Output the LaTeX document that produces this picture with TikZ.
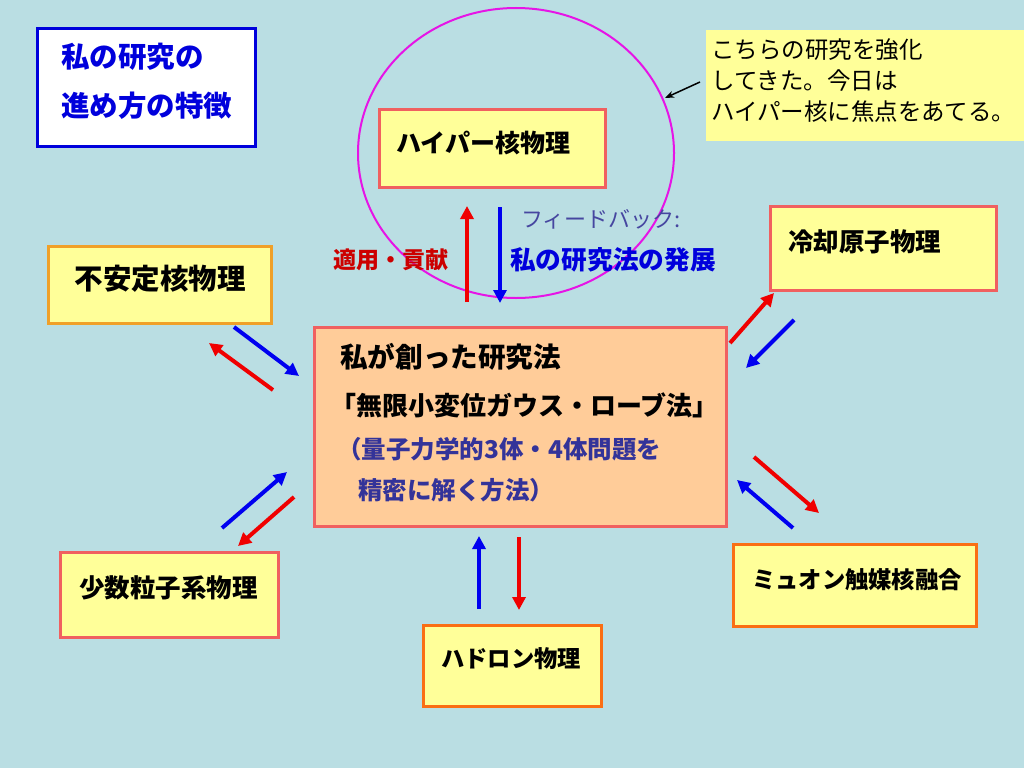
\documentclass[tikz,border=0pt]{standalone}
\usepackage{fontspec}
\setmainfont{Noto Sans CJK JP}
\newfontfamily\jp{Noto Sans CJK JP}
\usetikzlibrary{arrows.meta,shapes.geometric}
\definecolor{bg}{RGB}{186,222,227}
\definecolor{boxfill}{RGB}{255,255,153}
\definecolor{peach}{RGB}{255,204,153}
\definecolor{salmon}{RGB}{240,96,96}
\definecolor{amber}{RGB}{240,160,40}
\definecolor{orng}{RGB}{250,110,20}
\definecolor{titleblue}{RGB}{0,0,220}
\definecolor{darkblue}{RGB}{51,51,153}
\definecolor{slate}{RGB}{70,70,160}
\definecolor{redtxt}{RGB}{204,0,0}
\definecolor{arrred}{RGB}{240,0,0}
\definecolor{arrblue}{RGB}{0,0,240}
\definecolor{magenta2}{RGB}{230,20,230}
\tikzset{
  panel/.style={draw, line width=3pt, fill=boxfill, inner sep=0pt},
  lbl/.style={inner sep=0pt, font=\jp\bfseries\fontsize{24}{28}\selectfont},
  ltext/.style={inner sep=0pt, anchor=west},
  arr/.style={line width=4pt, -{Triangle[length=13pt,width=13pt]}},
}
\begin{document}
\begin{tikzpicture}[x=1pt,y=-1pt]
\fill[bg] (0,0) rectangle (1024,768);
\useasboundingbox (0,0) rectangle (1024,768);

% title box
\node[draw=titleblue, line width=3pt, fill=white, minimum width=218pt, minimum height=117pt] (title) at (146,87.5) {};
\node[ltext, font=\jp\bfseries\fontsize{28.5}{32}\selectfont, text=titleblue] (t1) at (61,57) {私の研究の};
\node[ltext, font=\jp\bfseries\fontsize{28.5}{32}\selectfont, text=titleblue] (t2) at (61,106) {進め方の特徴};

% magenta circle
\node[draw=magenta2, line width=2pt, ellipse, minimum width=316pt, minimum height=290pt, inner sep=0pt] (circ) at (516,153) {};

% callout
\node[fill=boxfill, minimum width=318pt, minimum height=111pt, inner sep=0pt] (callout) at (865,85.5) {};
\node[ltext, font=\jp\fontsize{23.5}{27}\selectfont] (c1) at (711,50) {こちらの研究を強化};
\node[ltext, font=\jp\fontsize{23.5}{27}\selectfont] (c2) at (711,81) {してきた。今日は};
\node[ltext, font=\jp\fontsize{23.5}{27}\selectfont] (c3) at (711,112) {ハイパー核に焦点をあてる。};
\coordinate (cs) at (700,82);
\coordinate (ce) at (665,98);
\draw[line width=1.5pt, -{Stealth[length=9pt,width=7pt]}] (cs) -- (ce);

% boxes
\node[panel, draw=salmon, minimum width=226pt, minimum height=78pt] (hyper) at (492,148) {};
\node[lbl, font=\jp\bfseries\fontsize{25}{28}\selectfont] (hyperT) at (483,143) {ハイパー核物理};

\node[panel, draw=amber, minimum width=223pt, minimum height=77pt] (unstable) at (159.5,284.5) {};
\node[lbl, font=\jp\bfseries\fontsize{28.5}{32}\selectfont] (unstableT) at (160,279) {不安定核物理};

\node[panel, draw=salmon, minimum width=226pt, minimum height=84pt] (cold) at (883,248) {};
\node[lbl, font=\jp\bfseries\fontsize{25.5}{29}\selectfont] (coldT) at (864.5,242) {冷却原子物理};

\node[panel, draw=salmon, minimum width=218pt, minimum height=85pt] (few) at (169,594.5) {};
\node[lbl, font=\jp\bfseries\fontsize{25.5}{29}\selectfont] (fewT) at (168.5,588) {少数粒子系物理};

\node[panel, draw=orng, minimum width=243pt, minimum height=82pt] (muon) at (854.5,585) {};
\node[lbl, font=\jp\bfseries\fontsize{23.3}{27}\selectfont] (muonT) at (857,580) {ミュオン触媒核融合};

\node[panel, draw=orng, minimum width=178pt, minimum height=81pt] (hadron) at (512,665.5) {};
\node[lbl, font=\jp\bfseries\fontsize{23.3}{27}\selectfont] (hadronT) at (511,659) {ハドロン物理};

% center box
\node[panel, draw=salmon, fill=peach, minimum width=412pt, minimum height=199pt] (method) at (520,426.5) {};
\node[ltext, font=\jp\bfseries\fontsize{27.6}{31}\selectfont] (m1) at (340,357) {私が創った研究法};
\node[ltext, font=\jp\bfseries\fontsize{26}{30}\selectfont] (m2) at (330,405) {「無限小変位ガウス・ローブ法」};
\node[ltext, font=\jp\bfseries\fontsize{24.5}{28}\selectfont, text=darkblue] (m3) at (337,449) {（量子力学的3体・4体問題を};
\node[ltext, font=\jp\bfseries\fontsize{24.5}{28}\selectfont, text=darkblue] (m4) at (358,490) {精密に解く方法）};

% labels by vertical arrows
\node[ltext, font=\jp\bfseries\fontsize{23}{27}\selectfont, text=redtxt] (apply) at (333,260) {適用・貢献};
\node[ltext, font=\jp\fontsize{22}{26}\selectfont, text=slate] (fb) at (521,219) {フィードバック:};
\node[ltext, font=\jp\bfseries\fontsize{25.7}{29}\selectfont, text=titleblue] (dev) at (510,260) {私の研究法の発展};

% arrow end points
\coordinate (a1s) at (467,302); \coordinate (a1e) at (467,206);
\coordinate (a2s) at (500,207); \coordinate (a2e) at (500,303);
\coordinate (b1s) at (234,327); \coordinate (b1e) at (299,376);
\coordinate (b2s) at (273,390); \coordinate (b2e) at (209,343);
\coordinate (c1s) at (222,528); \coordinate (c1e) at (287,472);
\coordinate (c2s) at (294,497); \coordinate (c2e) at (238,546);
\coordinate (d1s) at (730,343); \coordinate (d1e) at (774,293);
\coordinate (d2s) at (794,320); \coordinate (d2e) at (746,368);
\coordinate (e1s) at (754,457); \coordinate (e1e) at (819,513);
\coordinate (e2s) at (793,528); \coordinate (e2e) at (737,480);
\coordinate (f1s) at (479,609); \coordinate (f1e) at (479,536);
\coordinate (f2s) at (519,537); \coordinate (f2e) at (519,610);

\draw[arr, arrred] (a1s) -- (a1e);
\draw[arr, arrblue] (a2s) -- (a2e);
\draw[arr, arrblue] (b1s) -- (b1e);
\draw[arr, arrred] (b2s) -- (b2e);
\draw[arr, arrblue] (c1s) -- (c1e);
\draw[arr, arrred] (c2s) -- (c2e);
\draw[arr, arrred] (d1s) -- (d1e);
\draw[arr, arrblue] (d2s) -- (d2e);
\draw[arr, arrred] (e1s) -- (e1e);
\draw[arr, arrblue] (e2s) -- (e2e);
\draw[arr, arrblue] (f1s) -- (f1e);
\draw[arr, arrred] (f2s) -- (f2e);
\end{tikzpicture}
\end{document}
